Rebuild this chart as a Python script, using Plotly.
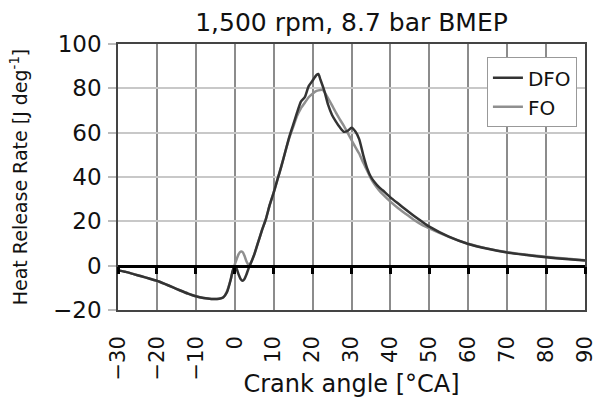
import plotly.graph_objects as go

# ---- data ----
ca_dfo = [-30, -28, -26, -24, -22, -20, -18, -16, -14, -12, -10, -8, -6, -4, -3, -2, -1, -0.5, 0, 0.5, 1, 1.5, 2, 2.5, 3, 3.5, 4,
          5, 6, 7, 8, 9, 10, 11, 12, 13, 14, 15, 16, 17, 18, 19, 20, 21, 21.5, 22, 23, 24, 25, 26, 27, 28, 29, 30, 31, 32,
          33, 34, 35, 36, 37, 38, 40, 42, 44, 46, 48, 50, 55, 60, 65, 70, 75, 80, 85, 90]
hrr_dfo = [-2.0, -2.8, -3.8, -4.8, -5.8, -6.8, -8.2, -9.7, -11.2, -12.6, -13.8, -14.6, -15.0, -14.9, -14.4, -12.0, -6.0, -2.0,
           -0.5, -1.5, -4.0, -6.0, -6.8, -6.0, -4.0, -1.5, 0.5,
           5.0, 10.5, 16.0, 21.0, 27.5, 33.0, 39.0, 45.0, 51.5, 58.0, 63.5, 69.0, 74.0, 76.0, 81.0, 83.5, 86.0, 86.5, 84.0,
           79.0, 72.5, 68.0, 65.0, 62.4, 60.4, 60.8, 62.2, 60.5, 57.0, 50.0, 44.0, 40.0, 37.5, 35.5, 34.0, 30.8, 28.0, 25.2,
           22.5, 20.0, 17.6, 13.1, 9.8, 7.6, 5.9, 4.8, 3.8, 3.0, 2.3]

ca_fo = [-30, -28, -26, -24, -22, -20, -18, -16, -14, -12, -10, -8, -6, -4, -3, -2, -1, -0.5, 0, 0.5, 1, 1.5, 2, 2.5, 3, 3.5, 4,
         5, 6, 7, 8, 9, 10, 11, 12, 13, 14, 15, 16, 17, 18, 19, 20, 21, 22, 22.7, 23, 24, 25, 26, 27, 28, 29, 30, 31, 32,
         33, 34, 35, 36, 37, 38, 40, 42, 44, 46, 48, 50, 55, 60, 65, 70, 75, 80, 85, 90]
hrr_fo = [-2.0, -2.8, -3.8, -4.8, -5.8, -6.8, -8.2, -9.7, -11.2, -12.6, -13.8, -14.6, -15.0, -14.9, -14.4, -11.5, -6.0, -2.5,
          0.5, 3.0, 5.2, 6.3, 6.2, 4.5, 2.0, 0.5, 1.0,
          5.0, 10.5, 16.0, 21.0, 27.5, 33.0, 39.0, 45.0, 51.5, 57.5, 62.5, 67.5, 71.0, 73.5, 76.0, 77.6, 78.8, 79.3, 79.2,
          78.5, 75.5, 72.3, 69.0, 66.0, 63.2, 60.0, 56.7, 53.5, 50.5, 46.5, 43.0, 39.3, 36.5, 34.2, 32.3, 28.9, 25.9, 23.3,
          20.7, 18.5, 16.8, 13.0, 9.9, 7.7, 6.1, 4.9, 4.0, 3.2, 2.5]

x_range = [-30, 90]
y_range = [-20, 100]
title_text = "1,500 rpm, 8.7 bar BMEP"
x_title = "Crank angle [°CA]"
y_title = "Heat Release Rate [J deg<sup>-1</sup>]"

FONT = "DejaVu Sans"

fig = go.Figure()
fig.add_trace(go.Scatter(x=ca_dfo, y=hrr_dfo, mode="lines", name="DFO",
                         line=dict(color="#333333", width=2.5, shape="spline", smoothing=0.5),
                         xaxis="x2", yaxis="y"))
fig.add_trace(go.Scatter(x=ca_fo, y=hrr_fo, mode="lines", name="FO",
                         line=dict(color="#8f8f8f", width=2.5, shape="spline", smoothing=0.5),
                         xaxis="x", yaxis="y"))

zero_pos = (0 - y_range[0]) / (y_range[1] - y_range[0])

fig.update_layout(
    width=603, height=398,
    margin=dict(l=118, r=18, t=44, b=88, autoexpand=False),
    paper_bgcolor="white", plot_bgcolor="white",
    font=dict(family=FONT, color="#111111"),
    title=dict(text=title_text, x=0.5, xref="paper", xanchor="center",
               y=1 - 22 / 398, yanchor="middle", font=dict(size=25, color="#111111")),
    xaxis=dict(range=x_range, dtick=10, tickangle=-90, ticks="", showline=True, mirror=True,
               linecolor="#444444", linewidth=1.5, showgrid=True, gridcolor="#8c8c8c", gridwidth=1.5,
               zeroline=False, tickfont=dict(size=21), ticklabelstandoff=16, automargin=False,
               title=dict(text=x_title, font=dict(size=24), standoff=2)),
    xaxis2=dict(range=x_range, dtick=10, overlaying="x", anchor="free", position=zero_pos, side="bottom",
                showline=True, linecolor="#000000", linewidth=2.5, ticks="outside", ticklen=7, tickwidth=2.5,
                tickcolor="#000000", showticklabels=False, showgrid=False, zeroline=False, automargin=False),
    yaxis=dict(range=y_range, dtick=20, ticks="outside", ticklen=8, tickwidth=1.5, tickcolor="#bbbbbb",
               showline=True, mirror=True, linecolor="#444444", linewidth=1.5,
               showgrid=True, gridcolor="#c8c8c8", gridwidth=1.5, zeroline=False,
               tickfont=dict(size=23), ticklabelstandoff=2, automargin=False,
               title=dict(text=y_title, font=dict(size=19), standoff=20)),
    legend=dict(x=0.79, y=0.95, xanchor="left", yanchor="top", bgcolor="white",
                bordercolor="#999999", borderwidth=1, font=dict(size=20), tracegroupgap=0,
                itemwidth=30),
    showlegend=True,
)

fig.write_html("out.html")
